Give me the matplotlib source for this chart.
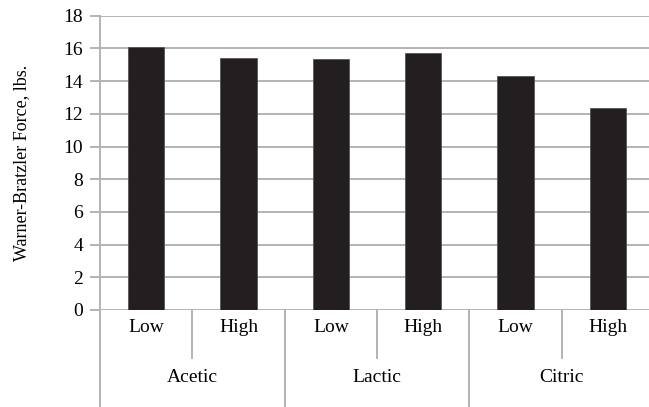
import numpy as np
from matplotlib import pyplot as plt

# acid type / concentration level / shear force
acids = ['Acetic', 'Lactic', 'Citric']
levels = ['Low', 'High']
force = [16.1, 15.43, 15.37, 15.72, 14.33, 12.34]

plt.rcParams['font.family'] = ['Liberation Serif', 'DejaVu Serif']
gray = '#b3b3b3'

fig = plt.figure(figsize=(6.49, 4.07), dpi=100)
# plot area runs a few pixels past the right edge, as in the original
ax = fig.add_axes([100 / 649, 97 / 407, 554 / 649, 294.3 / 407])

x = np.arange(len(force))
ax.bar(x, force, width=0.39, color='#231f20', edgecolor='#555555', linewidth=0.6, zorder=3)

ax.set_xlim(-0.5, len(force) - 0.5)
ax.set_ylim(0, 18)
ax.set_yticks(np.arange(0, 19, 2))
ax.yaxis.grid(True, color=gray, linewidth=1.4)
ax.set_axisbelow(True)
ax.tick_params(axis='y', length=7, width=1.4, color=gray, labelsize=14, pad=5)
ax.set_xticks([])
for s in ['top', 'right', 'bottom']:
    ax.spines[s].set_visible(False)
ax.spines['left'].set_color(gray)
ax.spines['left'].set_linewidth(1.4)

ax.set_ylabel('Warner-Bratzler Force, lbs.', fontsize=13, labelpad=24)

# two-level category axis
trans = ax.get_xaxis_transform()
for i in range(len(force)):
    ax.text(i, -0.058, levels[i % 2], transform=trans, ha='center', va='center', fontsize=14)
for g, name in enumerate(acids):
    ax.text(2 * g + 0.5, -0.231, name, transform=trans, ha='center', va='center', fontsize=14)
    ax.plot([2 * g + 0.5] * 2, [0, -0.163], transform=trans, color=gray, lw=1.4, clip_on=False)
for g in range(len(acids) + 1):
    ax.plot([2 * g - 0.5] * 2, [0, -0.34], transform=trans, color=gray, lw=1.4, clip_on=False)

plt.savefig('out.png', dpi=100)
